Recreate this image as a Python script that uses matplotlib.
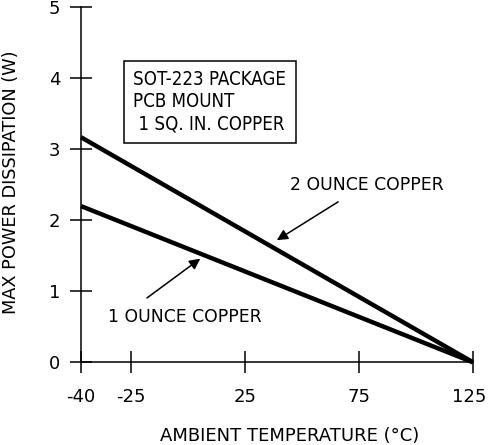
import numpy as np
import matplotlib
matplotlib.use('Agg')
import matplotlib.pyplot as plt
import matplotlib.transforms as mtransforms

plt.rcParams['font.family'] = ['DejaVu Sans']
plt.rcParams['axes.unicode_minus'] = False

# data
temps = [-40, 125]
one_oz = [2.20, 0.0]
two_oz = [3.17, 0.0]

x_ticks = [-40, -25, 25, 75, 125]
y_ticks = [0, 1, 2, 3, 4, 5]

# the drawing stretches the axis below -25
k = 1.47
xs = np.array([-1000.0, -25.0, 1000.0])
us = np.array([-25.0 - 975.0 * k, -25.0, 1000.0])


def fwd(x):
    return np.interp(x, xs, us)


def inv(u):
    return np.interp(u, us, xs)


fig = plt.figure(figsize=(4.88, 4.45), dpi=100)
ax = fig.add_axes([81 / 488, 1 - 362.3 / 445, 392 / 488, 355 / 445])
ax.set_xscale('function', functions=(fwd, inv))
ax.set_xlim(-40, 125)
ax.set_ylim(0, 5)

ax.plot(temps, two_oz, color='black', lw=3.2, solid_capstyle='butt', clip_on=False)
ax.plot(temps, one_oz, color='black', lw=3.2, solid_capstyle='butt', clip_on=False)

for s in ['top', 'right']:
    ax.spines[s].set_visible(False)
for s in ['left', 'bottom']:
    ax.spines[s].set_linewidth(1.1)

ax.set_xticks(x_ticks)
ax.set_xticklabels([str(t) for t in x_ticks])
ax.set_yticks(y_ticks)
ax.minorticks_off()
ax.tick_params(direction='inout', length=15.5, width=1.1, labelsize=13)
ax.tick_params(axis='x', pad=11)
ax.tick_params(axis='y', pad=7)

# nudge the last label in so it stays inside the picture
last = ax.get_xticklabels()[-1]
last.set_transform(last.get_transform() +
                   mtransforms.ScaledTranslation(-3 / 72, 0, fig.dpi_scale_trans))

ax.set_xlabel('AMBIENT TEMPERATURE (\u00b0C)', fontsize=13)
ax.xaxis.set_label_coords(0.533, -0.183)
ax.set_ylabel('MAX POWER DISSIPATION (W)', fontsize=12.8)
ax.yaxis.set_label_coords(-0.156, 0.506)

ax.text(0.1334, 0.822, 'SOT-223 PACKAGE\nPCB MOUNT\n 1 SQ. IN. COPPER',
        transform=ax.transAxes, fontsize=13.4, fontstretch='condensed',
        va='top', ha='left', linespacing=1.2,
        bbox=dict(boxstyle='square,pad=0.5', fc='white', ec='black', lw=1.1))

ax.annotate('', xy=(38.9, 1.72), xytext=(65.8, 2.26),
            arrowprops=dict(arrowstyle='-|>', lw=1.1, color='black',
                            mutation_scale=16, shrinkA=0, shrinkB=0))
ax.text(44.7, 2.50, '2 OUNCE COPPER', fontsize=12.4, va='center', ha='left')

ax.annotate('', xy=(5.3, 1.46), xytext=(-18.1, 0.906),
            arrowprops=dict(arrowstyle='-|>', lw=1.1, color='black',
                            mutation_scale=16, shrinkA=0, shrinkB=0))
ax.text(-31.9, 0.645, '1 OUNCE COPPER', fontsize=12.4, va='center', ha='left')

fig.savefig('out.png', dpi=100)
